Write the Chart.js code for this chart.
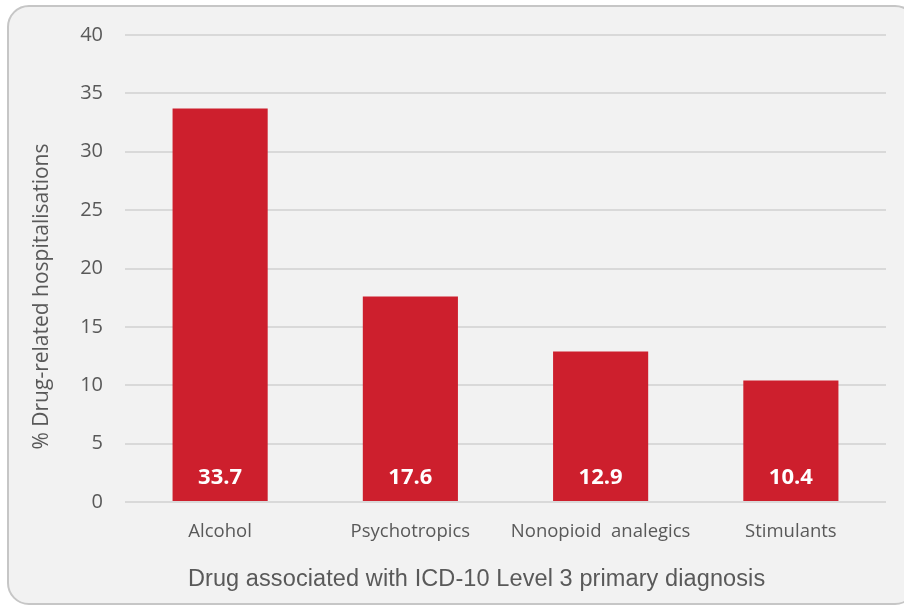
<!DOCTYPE html>
<html>
<head>
<meta charset="utf-8">
<script src="https://cdn.jsdelivr.net/npm/chart.js@4"></script>
<style>
  html, body { margin: 0; padding: 0; background: #ffffff; width: 904px; height: 610px; overflow: hidden; }
  #box { position: absolute; left: 7px; top: 5px; width: 910px; height: 600px; border: 2px solid #c6c6c6; border-radius: 22px; background: #f2f2f2; box-sizing: border-box; }
  #wrap { position: absolute; left: 0; top: 0; width: 904px; height: 610px; }
</style>
</head>
<body>
<div id="box"></div>
<div id="wrap"><canvas id="c" width="904" height="610"></canvas></div>
<script>
const categories = ["Alcohol", "Psychotropics", "Nonopioid  analegics", "Stimulants"];
const values = [33.7, 17.6, 12.9, 10.4];
const valueLabels = ["33.7", "17.6", "12.9", "10.4"];
const yTicks = [0, 5, 10, 15, 20, 25, 30, 35, 40];
const xTitle = "Drug associated with ICD-10 Level 3 primary diagnosis";
const yTitle = "% Drug-related hospitalisations";

const textColor = "#595959";
const barColor = "#cd1f2d";

const labelPlugin = {
  id: "labels",
  afterDatasetsDraw(chart) {
    const ctx = chart.ctx;
    const meta = chart.getDatasetMeta(0);
    const y0 = chart.scales.y.getPixelForValue(0);
    ctx.save();
    ctx.fillStyle = "#ffffff";
    ctx.font = "bold 22px 'Open Sans'";
    ctx.textAlign = "center";
    ctx.textBaseline = "middle";
    meta.data.forEach((bar, i) => {
      ctx.fillText(valueLabels[i], bar.x, y0 - 24);
    });
    ctx.restore();
  },
  afterDraw(chart) {
    const ctx = chart.ctx;
    const a = chart.chartArea;
    ctx.save();
    ctx.fillStyle = textColor;
    ctx.textAlign = "center";
    ctx.textBaseline = "middle";
    ctx.font = "23.5px 'Liberation Sans'";
    try { ctx.letterSpacing = "0.1px"; } catch (e) {}
    ctx.fillText(xTitle, a.left + (a.right - a.left) * 0.462, 580);
    try { ctx.letterSpacing = "0px"; } catch (e) {}
    ctx.translate(42, a.top + (a.bottom - a.top) * 0.56);
    ctx.rotate(-Math.PI / 2);
    ctx.font = "21px 'Open Sans'";
    ctx.fillText(yTitle, 0, 0);
    ctx.restore();
  }
};

new Chart(document.getElementById("c"), {
  type: "bar",
  data: {
    labels: categories,
    datasets: [{
      data: values,
      backgroundColor: barColor,
      borderWidth: 0,
      barPercentage: 0.5,
      categoryPercentage: 1.0
    }]
  },
  options: {
    responsive: false,
    animation: false,
    devicePixelRatio: 1,
    layout: { padding: { top: 35, right: 18, left: 0, bottom: 0 } },
    plugins: { legend: { display: false }, tooltip: { enabled: false } },
    scales: {
      x: {
        grid: { display: false, drawTicks: false },
        border: { display: false },
        ticks: { color: textColor, font: { family: "'Open Sans'", size: 18.5 }, padding: 19, maxRotation: 0, autoSkip: false },
        afterFit(scale) { scale.height = 108; }
      },
      y: {
        min: 0, max: 40,
        afterBuildTicks(scale) { scale.ticks = yTicks.map(v => ({ value: v })); },
        grid: { color: "#d9d9d9", lineWidth: 2, drawTicks: false },
        border: { display: false },
        ticks: { color: textColor, font: { family: "'Open Sans'", size: 20 }, padding: 22 },
        afterFit(scale) { scale.width = 125; }
      }
    }
  },
  plugins: [labelPlugin]
});
</script>
</body>
</html>
